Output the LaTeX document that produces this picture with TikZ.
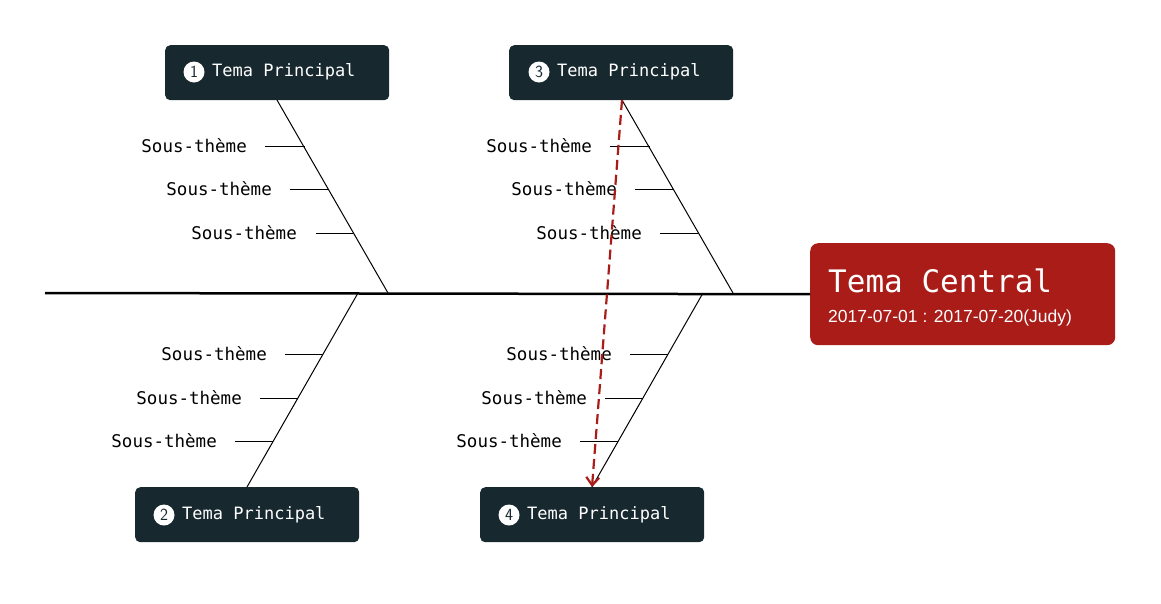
\documentclass[tikz,border=0pt]{standalone}
\usepackage{fontspec}
\setmainfont{Liberation Sans}
\newfontfamily\monof{DejaVu Sans Mono}
\usetikzlibrary{arrows.meta}
\definecolor{dk}{HTML}{17292F}
\definecolor{rd}{HTML}{A91C18}
\begin{document}
\begin{tikzpicture}[x=1pt,y=-1pt,
  mainbox/.style={fill=dk,rounded corners=5pt,minimum width=224pt,minimum height=55pt,inner sep=0pt},
  num/.style={circle,fill=white,inner sep=0pt,minimum size=21pt,font=\sffamily\fontsize{17}{17}\selectfont,text=dk},
  sub/.style={anchor=east,font=\monof\fontsize{17.5}{17.5}\selectfont,inner sep=0pt},
  bone/.style={line width=1pt},
  tl/.style={font=\monof\fontsize{17}{17}\selectfont,text=white}]
\useasboundingbox (0,0) rectangle (1161,603);
% spine
\coordinate (s0) at (45,293);
\node[fill=rd,rounded corners=8pt,minimum width=305pt,minimum height=102pt,anchor=north west,inner sep=0pt] (C) at (810,243) {};
\draw[line width=2.5pt] (s0) -- (C.west);
\node[anchor=west,text=white,font=\monof\fontsize{31}{31}\selectfont,inner sep=0pt] (ct) at (828,281) {Tema Central};
\node[anchor=west,text=white,font=\fontsize{17.5}{17.5}\selectfont,inner sep=0pt] (cd) at (828,318) {2017-07-01 : 2017-07-20(Judy)};
% main boxes
\node[mainbox,anchor=north west] (B1) at (165,45) {};
\node[mainbox,anchor=north west] (B3) at (509,45) {};
\node[mainbox,anchor=north west] (B2) at (135,487) {};
\node[mainbox,anchor=north west] (B4) at (480,487) {};
\node[num] (n1) at (194,72) {1};
\node[tl,anchor=west,inner sep=0pt] (l1) at (212,72) {Tema Principal};
\node[num] (n3) at (539,72) {3};
\node[tl,anchor=west,inner sep=0pt] (l3) at (557,72) {Tema Principal};
\node[num] (n2) at (164,515) {2};
\node[tl,anchor=west,inner sep=0pt] (l2) at (182,515) {Tema Principal};
\node[num] (n4) at (509,515) {4};
\node[tl,anchor=west,inner sep=0pt] (l4) at (527,515) {Tema Principal};
% bones
\coordinate (t1) at (277,100); \coordinate (e1) at (388,293);
\coordinate (t3) at (622,100); \coordinate (e3) at (733,293);
\coordinate (e2) at (358,293); \coordinate (t2) at (247,487);
\coordinate (e4) at (703,293); \coordinate (t4) at (592,487);
\draw[bone] (t1) -- (e1);
\draw[bone] (t3) -- (e3);
\draw[bone] (e2) -- (t2);
\draw[bone] (e4) -- (t4);
% ticks and labels
\foreach \y/\a/\b/\l in {146/265/305/247,189/290/328/272,233/316/353/297,
  146/610/650/592,189/635/673/617,233/660/698/642,
  354/285/323/267,398/260/298/242,441/235/273/217,
  354/630/668/612,398/605/643/587,441/580/618/562}{
  \draw[bone] (\a,\y) -- (\b,\y);
  \node[sub] at (\l,\y) {Sous-thème};
}
% red dashed arrow
\draw[rd,line width=2.2pt,dash pattern=on 10pt off 5pt,-{Straight Barb[length=8pt,width=13pt]}] (t3) -- (t4);
\end{tikzpicture}
\end{document}
